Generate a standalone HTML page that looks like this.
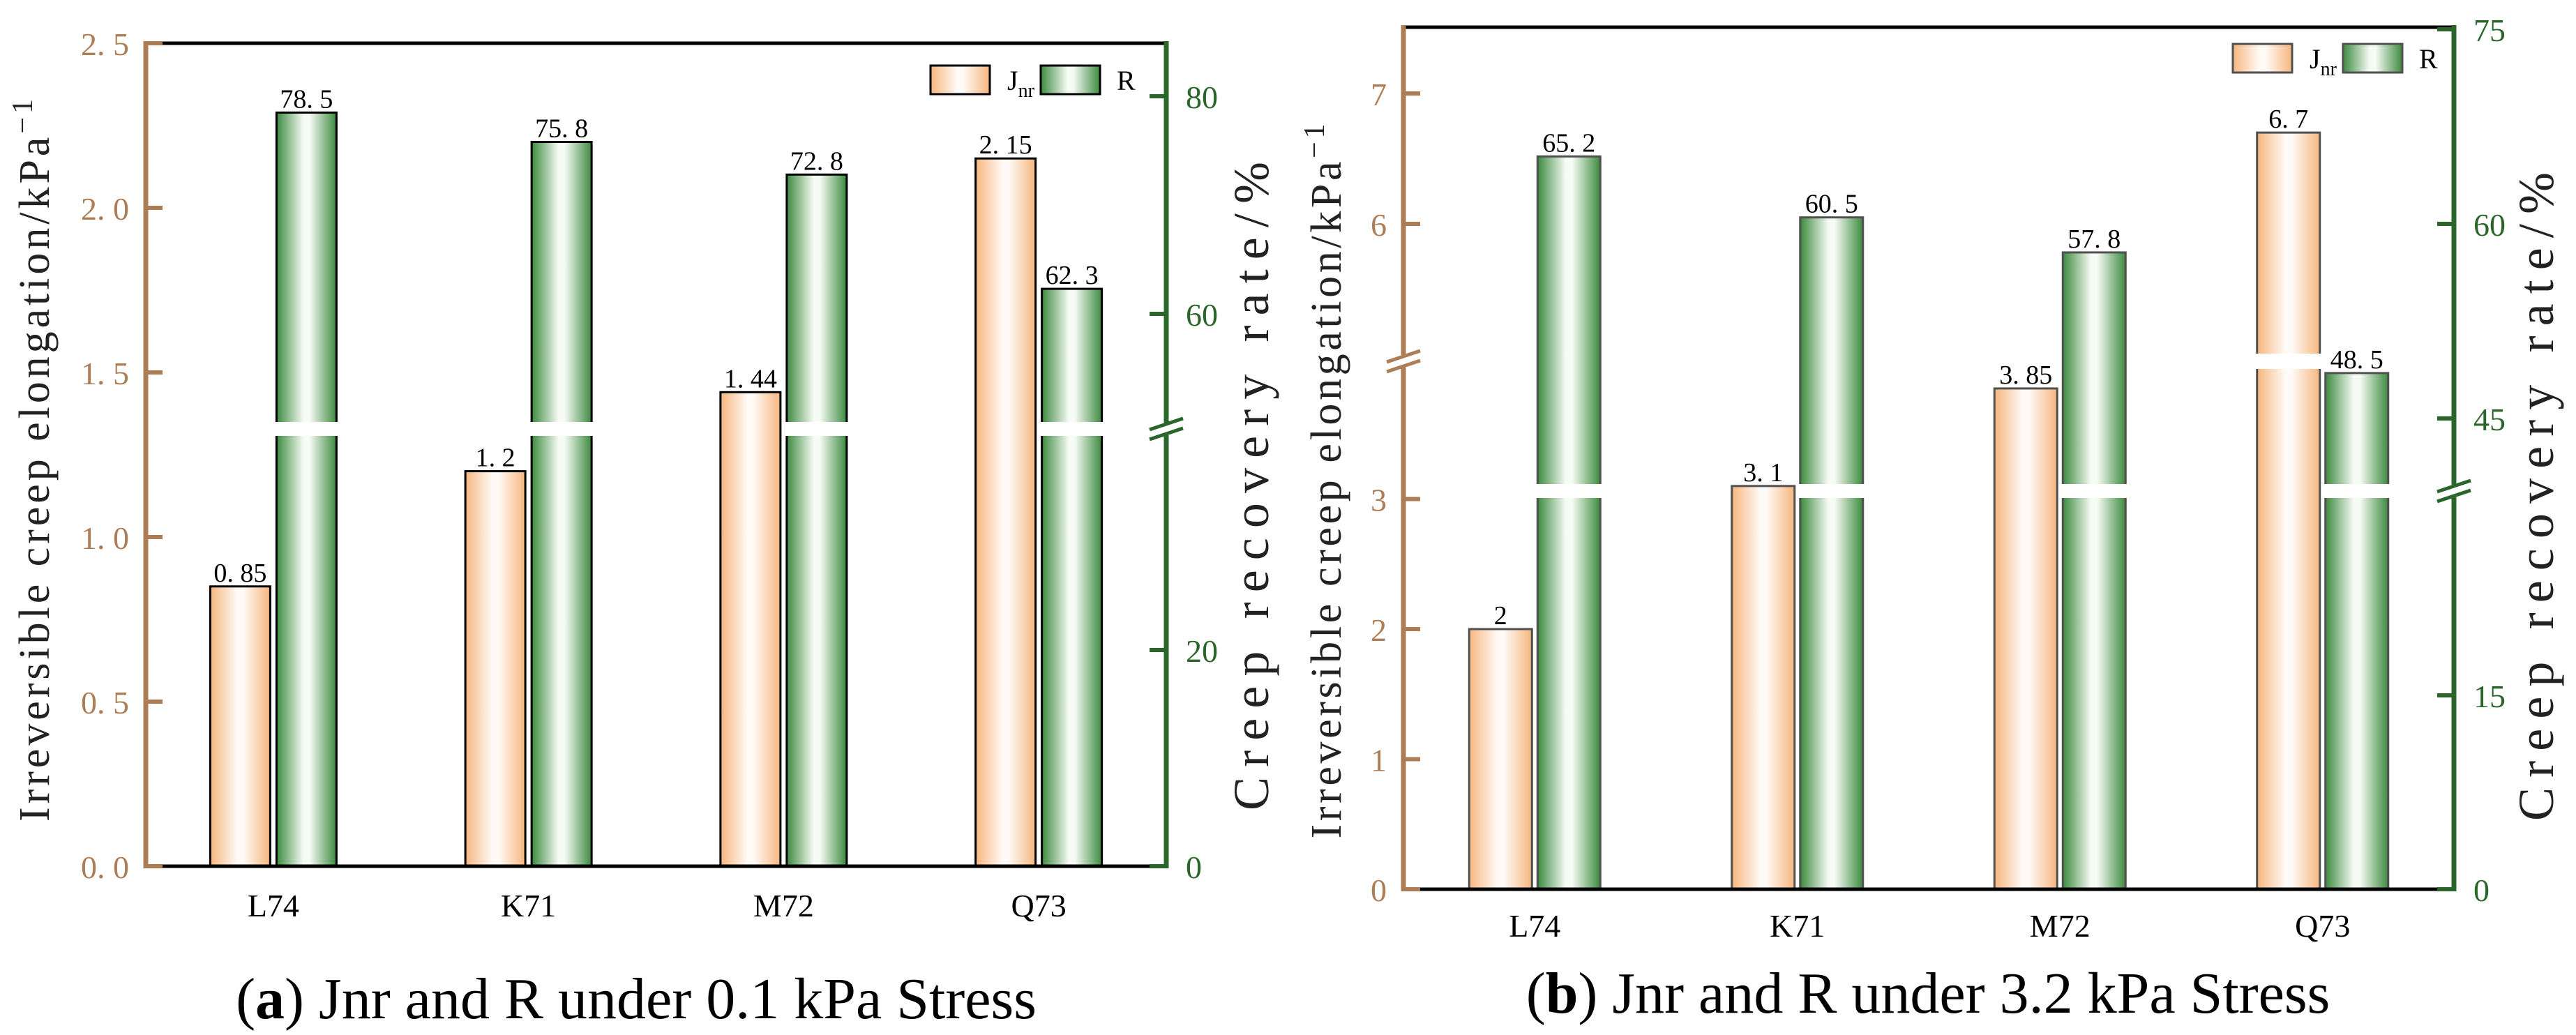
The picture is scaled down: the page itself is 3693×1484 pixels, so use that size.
<!DOCTYPE html>
<html><head><meta charset="utf-8"><style>
html,body{margin:0;padding:0;background:#fff;}
svg{display:block;}
text{font-family:"Liberation Serif",serif;}
</style></head><body>
<svg id="chart" width="3693" height="1484" viewBox="0 0 3693 1484" xmlns="http://www.w3.org/2000/svg">
<defs>
<linearGradient id="gO" x1="0" x2="1" y1="0" y2="0"><stop offset="0" stop-color="#f6b67e"/><stop offset="0.45" stop-color="#fffaf6"/><stop offset="0.55" stop-color="#fffaf6"/><stop offset="1" stop-color="#f6b67e"/></linearGradient>
<linearGradient id="gG" x1="0" x2="1" y1="0" y2="0"><stop offset="0" stop-color="#3c8a3e"/><stop offset="0.45" stop-color="#f6fbf5"/><stop offset="0.55" stop-color="#f6fbf5"/><stop offset="1" stop-color="#3c8a3e"/></linearGradient>
</defs>
<g id="ga"></g>
<g id="gb"></g>
</svg>
<script>
const categories = ["L74","K71","M72","Q73"];
const jnrA = [0.85,1.2,1.44,2.15];
const rA = [78.5,75.8,72.8,62.3];
const jnrLabelsA = ["0. 85","1. 2","1. 44","2. 15"];
const rLabelsA = ["78. 5","75. 8","72. 8","62. 3"];
const jnrB = [2,3.1,3.85,6.7];
const rB = [65.2,60.5,57.8,48.5];
const jnrLabelsB = ["2","3. 1","3. 85","6. 7"];
const rLabelsB = ["65. 2","60. 5","57. 8","48. 5"];
const leftTicksA = [0,0.5,1.0,1.5,2.0,2.5];
const leftTickLabelsA = ["0. 0","0. 5","1. 0","1. 5","2. 0","2. 5"];
const rightTicksA = [0,20,60,80];
const leftTicksB = [0,1,2,3,6,7];
const rightTicksB = [0,15,45,60,75];

const NS="http://www.w3.org/2000/svg";
const BROWN="#ad7d55", GREEN="#2a652a";
function mk(parent,tag,attrs,txt){const e=document.createElementNS(NS,tag);for(const k in attrs)e.setAttribute(k,attrs[k]);if(txt!==undefined)e.textContent=txt;parent.appendChild(e);return e;}

function piece(lo,hi,y0,s0,y1ref,v1ref,s1){
  return function(v){ if(v<=lo) return y0 - v*s0; if(v>=hi) return y1ref-(v-v1ref)*s1; const t=(v-lo)/(hi-lo); const a=y0-lo*s0,b=y1ref-(hi-v1ref)*s1; return a+(b-a)*t; };
}

function drawChart(cfg){
  const g=document.getElementById(cfg.id);
  const {L,R,T,B}=cfg;
  const xBand=(R-L)/categories.length;
  const xC=i=>L+xBand*(i+0.5);
  const bw=cfg.bw, gap=cfg.gap;
  let e;
  e=mk(g,'line',{x1:L,y1:T,x2:R,y2:T,stroke:'#000','stroke-width':5});
  
  
  categories.forEach((c,i)=>{
    const xj=xC(i)-gap/2-bw, xr=xC(i)+gap/2;
    const vj=cfg.jnr[i], vr=cfg.r[i];
    const yj=cfg.yL(vj), yr=cfg.yR(vr);
    e=mk(g,'rect',{x:xj,y:yj,width:bw,height:B-yj,fill:'url(#gO)',stroke:cfg.barStroke,'stroke-width':3});
    
    
    e=mk(g,'rect',{x:xr,y:yr,width:bw,height:B-yr,fill:'url(#gG)',stroke:cfg.barStroke,'stroke-width':3});
    
    
    if(cfg.lBreak && vj>cfg.lBreak.v){
      e=mk(g,'rect',{x:xj-4,y:cfg.lBreak.y-11,width:bw+8,height:22,fill:'#fff'});
      
      
    }
    if(cfg.rBreak && vr>cfg.rBreak.v){
      e=mk(g,'rect',{x:xr-4,y:cfg.rBreak.y-10,width:bw+8,height:20,fill:'#fff'});
      
      
    }
    e=mk(g,'text',{x:xj+bw/2,y:yj-7,'font-size':38,'text-anchor':'middle',fill:'#000'},cfg.jl[i]);
    
    
    e=mk(g,'text',{x:xr+bw/2,y:yr-7,'font-size':38,'text-anchor':'middle',fill:'#000'},cfg.rl[i]);
    
    
    e=mk(g,'text',{x:xC(i),y:B+cfg.catDy,'font-size':46,'text-anchor':'middle',fill:'#000'},c);
    
    
  });
  e=mk(g,'line',{x1:L,y1:B,x2:R,y2:B,stroke:'#000','stroke-width':5});
  
  
  e=mk(g,'line',{x1:L,y1:T-3,x2:L,y2:B+3,stroke:BROWN,'stroke-width':7});
  
  
  cfg.lt.forEach((v,i)=>{
    const y=cfg.yL(v);
    e=mk(g,'line',{x1:L,y1:y,x2:L+24,y2:y,stroke:BROWN,'stroke-width':6});
    
    
    e=mk(g,'text',{x:L-24,y:y+17,'font-size':46,'text-anchor':'end',fill:BROWN},cfg.ltl[i]);
    
    
  });
  e=mk(g,'line',{x1:R,y1:T-3,x2:R,y2:B+3,stroke:GREEN,'stroke-width':7});
  
  
  cfg.rt.forEach(v=>{
    const y=cfg.yR(v);
    e=mk(g,'line',{x1:R-24,y1:y,x2:R,y2:y,stroke:GREEN,'stroke-width':6});
    
    
    e=mk(g,'text',{x:R+28,y:y+17,'font-size':46,'text-anchor':'start',fill:GREEN},String(v));
    
    
  });
  function brk(x,y,col){
    mk(g,'rect',{x:x-8,y:y-9,width:16,height:18,fill:'#fff'});
    [-7,7].forEach(d=>{
      e=mk(g,'line',{x1:x-24,y1:y+d+8,x2:x+24,y2:y+d-8,stroke:col,'stroke-width':5});
      
      
    });
  }
  if(cfg.lBreak) brk(L,cfg.lBreak.y,BROWN);
  if(cfg.rBreak) brk(R,cfg.rBreak.y,GREEN);
  const lg=mk(g,'g',{});
  
  
  e=mk(lg,'rect',{x:cfg.legX,y:cfg.legY,width:85,height:41,fill:'url(#gO)',stroke:cfg.barStroke,'stroke-width':3});
  
  
  e=mk(lg,'text',{x:cfg.legX+110,y:cfg.legY+35,'font-size':40,fill:'#000'});
  
  
  mk(e,'tspan',{},'J');
  mk(e,'tspan',{'font-size':28,dy:10},'nr');
  e=mk(lg,'rect',{x:cfg.legX+158,y:cfg.legY,width:85,height:41,fill:'url(#gG)',stroke:cfg.barStroke,'stroke-width':3});
  
  
  e=mk(lg,'text',{x:cfg.legX+267,y:cfg.legY+35,'font-size':40,fill:'#000'},'R');
  
  
  e=mk(g,'text',{x:0,y:0,'font-size':62,fill:'#222',transform:`translate(${cfg.ltx},${cfg.lty}) rotate(-90)`,'text-anchor':'middle',textLength:cfg.ltLen,lengthAdjust:'spacing'});
  
  
  mk(e,'tspan',{},'Irreversible creep elongation/kPa');
  mk(e,'tspan',{'font-size':42,dy:-24},'−1');
  e=mk(g,'text',{x:0,y:0,'font-size':72,fill:'#222',transform:`translate(${cfg.rtx},${cfg.rty}) rotate(-90)`,'text-anchor':'middle',textLength:cfg.rtLen,lengthAdjust:'spacing'},'Creep recovery rate/%');
  
  
  e=mk(g,'text',{x:cfg.capX,y:cfg.capY,'font-size':84,fill:'#000','text-anchor':'middle'});
  
  
  mk(e,'tspan',{},'(');
  mk(e,'tspan',{'font-weight':'bold'},cfg.capLetter);
  mk(e,'tspan',{},') '+cfg.capText);
}

drawChart({id:'ga',L:209,R:1672,T:62,B:1242,bw:86,gap:9,barStroke:'#000',catDy:72,
  jnr:jnrA,r:rA,jl:jnrLabelsA,rl:rLabelsA,
  yL:v=>1242-v*472,
  yR:piece(40.5,49.3,1242,15.5,450,60,15.6),
  lt:leftTicksA,ltl:leftTickLabelsA,rt:rightTicksA,
  lBreak:null,rBreak:{v:44,y:615},
  legX:1334,legY:94,
  ltx:70,lty:660,ltLen:1036,rtx:1818,rty:697,rtLen:930,
  capX:912,capY:1460,capLetter:'a',capText:'Jnr and R under 0.1 kPa Stress'});

drawChart({id:'gb',L:2012,R:3518,T:39,B:1275,bw:90,gap:8,barStroke:'#505050',catDy:68,
  jnr:jnrB,r:rB,jl:jnrLabelsB,rl:rLabelsB,
  yL:piece(4,5,1275,186.5,321,6,187),
  yR:piece(31,40,1275,18.53,600,45,18.6),
  lt:leftTicksB,ltl:leftTicksB.map(String),rt:rightTicksB,
  lBreak:{v:4.5,y:518},rBreak:{v:35,y:704},
  legX:3201,legY:63,
  ltx:1922,lty:690,ltLen:1025,rtx:3660,rty:712,rtLen:930,
  capX:2764,capY:1452,capLetter:'b',capText:'Jnr and R under 3.2 kPa Stress'});
</script>
</body></html>
